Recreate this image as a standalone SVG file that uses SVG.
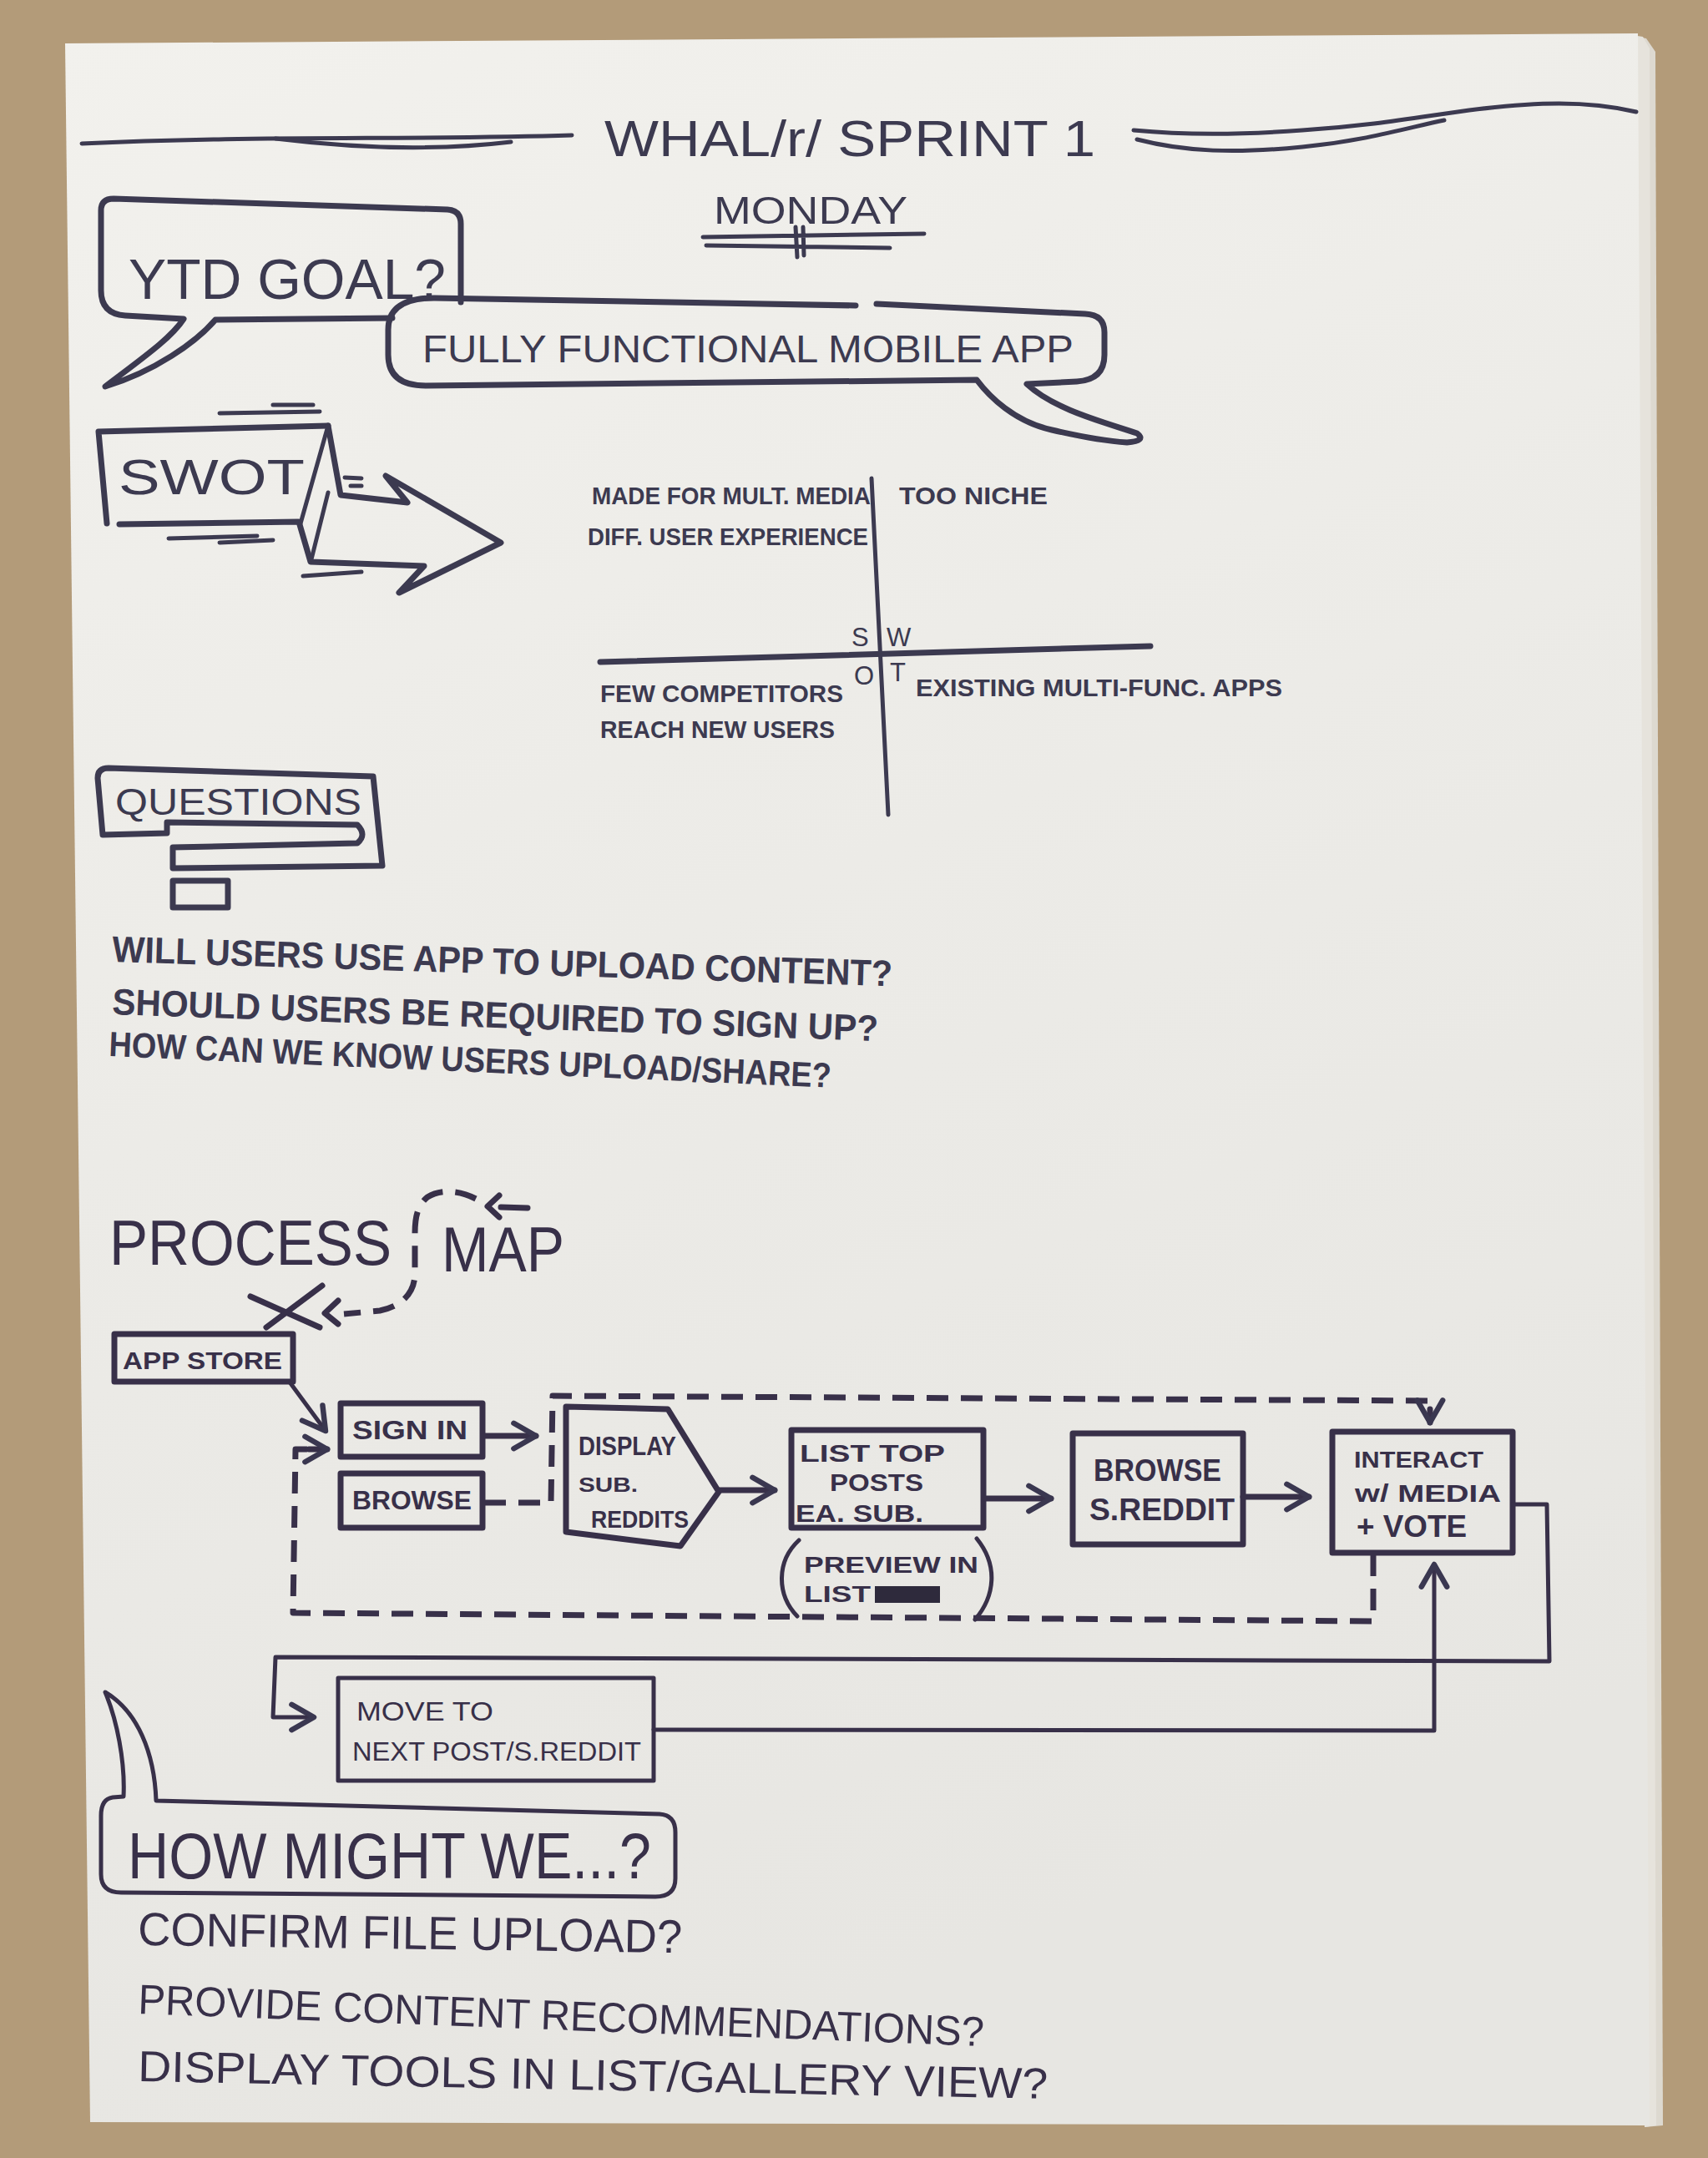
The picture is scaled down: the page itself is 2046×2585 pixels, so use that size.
<svg xmlns="http://www.w3.org/2000/svg" width="2046" height="2585" viewBox="0 0 2046 2585">
  <defs>
    <linearGradient id="paper" x1="0" y1="0" x2="0.3" y2="1">
      <stop offset="0" stop-color="#f2f1ed"/>
      <stop offset="0.5" stop-color="#ecebe7"/>
      <stop offset="1" stop-color="#e7e6e2"/>
    </linearGradient>
    <marker id="ah" viewBox="0 0 20 20" refX="17" refY="10" markerWidth="38" markerHeight="38" markerUnits="userSpaceOnUse" orient="auto">
      <path d="M3,2 L17,10 L3,18" fill="none" stroke="#3a3750" stroke-width="3.4" stroke-linecap="round" stroke-linejoin="round"/>
    </marker>
    <style>
      .ln{fill:none;stroke:#3c3a50;stroke-width:7;stroke-linecap:round;stroke-linejoin:round}
      .pm{stroke:#383049}
      .th{stroke-width:9}
      .thin{stroke-width:5}
      .dash{stroke-dasharray:26 15;stroke-linecap:butt}
      .t{font-family:"Liberation Sans","DejaVu Sans",sans-serif;fill:#3c3a50}
      .tp{fill:#383049}
      .b{font-weight:700}
    </style>
  </defs>

  <!-- cork board and flip-chart sheets -->
  <rect x="0" y="0" width="2046" height="2585" fill="#b39b79"/>
  <polygon points="1950,42 1972,46 1983,62 1992,2546 1970,2548" fill="#ddd9d0"/>
  <polygon points="1955,42 1968,44 1976,58 1984,2546 1970,2548" fill="#e6e3dc"/>
  <polygon points="78,52 1962,40 1976,2546 108,2542" fill="url(#paper)"/>

  <!-- header -->
  <g id="title">
    <path class="ln thin" d="M98,172 C300,162 500,168 685,162"/>
    <path class="ln thin" d="M330,166 C420,177 520,181 612,170"/>
    <path class="ln thin" d="M1358,156 C1420,162 1480,162 1560,156 C1650,150 1700,140 1760,132 C1840,122 1900,120 1960,134"/>
    <path class="ln thin" d="M1362,167 C1420,182 1480,184 1560,176 C1640,168 1690,152 1730,144"/>
    <text class="t" x="724" y="187" font-size="62" textLength="588" lengthAdjust="spacingAndGlyphs">WHAL/r/ SPRINT 1</text>
  </g>
  <g id="monday">
    <text class="t" x="855" y="268" font-size="46" textLength="232" lengthAdjust="spacingAndGlyphs">MONDAY</text>
    <path class="ln thin" d="M842,284 L1107,280 M846,294 L1066,297 M953,272 L955,308 M962,272 L963,306"/>
  </g>

  <!-- goal bubbles -->
  <g id="ytd-goal">
    <path class="ln" d="M470,381 L258,383 C235,410 185,445 126,463 C172,428 205,405 220,382 L150,378 Q121,376 121,348 L121,252 Q121,238 136,238 L536,251 Q552,252 552,268 L552,362"/>
    <text class="t" x="154" y="358" font-size="68" textLength="380" lengthAdjust="spacingAndGlyphs">YTD GOAL?</text>
  </g>
  <g id="fully-functional">
    <path class="ln" d="M1025,366 L520,357 Q465,357 465,395 L465,425 Q465,462 510,462 L1170,455 C1185,475 1215,505 1260,515 C1290,522 1320,528 1350,530 Q1374,528 1362,519 C1320,505 1262,490 1230,460 L1290,457 Q1323,455 1323,425 L1323,398 Q1323,377 1300,376 L1050,364"/>
    <text class="t" x="506" y="434" font-size="46" textLength="780" lengthAdjust="spacingAndGlyphs">FULLY FUNCTIONAL MOBILE APP</text>
  </g>

  <!-- SWOT banner arrow -->
  <g id="swot">
    <path class="ln" d="M128,627 L118,517 L393,510"/>
    <path class="ln" d="M143,628 L358,625 L372,673 L508,678 L478,710 L600,650 L462,570 L488,602 L408,593 L393,510"/>
    <path class="ln thin" d="M393,510 L360,627 M393,590 L373,670"/>
    <path class="ln thin" d="M263,495 L383,493 M327,485 L375,485 M202,645 L308,642 M263,650 L327,647 M363,690 L433,685 M413,572 L433,573 M420,582 L433,582"/>
    <text class="t" x="142" y="592" font-size="60" textLength="223" lengthAdjust="spacingAndGlyphs">SWOT</text>
  </g>

  <!-- SWOT matrix -->
  <g id="swot-matrix">
    <path class="ln thin" d="M1044,573 L1064,976"/>
    <path class="ln" d="M719,793 L1378,774"/>
    <text class="t" x="1020" y="774" font-size="31">S</text>
    <text class="t" x="1062" y="774" font-size="31">W</text>
    <text class="t" x="1023" y="820" font-size="31">O</text>
    <text class="t" x="1066" y="816" font-size="31">T</text>
    <text class="t b" x="709" y="604" font-size="30" textLength="334" lengthAdjust="spacingAndGlyphs">MADE FOR MULT. MEDIA</text>
    <text class="t b" x="1077" y="604" font-size="30" textLength="178" lengthAdjust="spacingAndGlyphs">TOO NICHE</text>
    <text class="t b" x="704" y="653" font-size="30" textLength="336" lengthAdjust="spacingAndGlyphs">DIFF. USER EXPERIENCE</text>
    <text class="t b" x="719" y="841" font-size="30" textLength="291" lengthAdjust="spacingAndGlyphs">FEW COMPETITORS</text>
    <text class="t b" x="719" y="884" font-size="30" textLength="281" lengthAdjust="spacingAndGlyphs">REACH NEW USERS</text>
    <text class="t b" x="1097" y="834" font-size="30" textLength="439" lengthAdjust="spacingAndGlyphs">EXISTING MULTI-FUNC. APPS</text>
  </g>

  <!-- questions -->
  <g id="questions">
    <path class="ln" d="M207,1015 L428,1010 Q440,1000 428,988 L200,985 L200,998 L123,1000 L117,932 Q117,920 130,920 L447,930 L458,1037 L207,1040 Z"/>
    <rect class="ln" x="207" y="1055" width="66" height="32"/>
    <text class="t" x="138" y="976" font-size="44" textLength="295" lengthAdjust="spacingAndGlyphs">QUESTIONS</text>
  </g>
  <g id="question-list">
    <text class="t b" x="134" y="1152" font-size="44" textLength="935" lengthAdjust="spacingAndGlyphs" transform="rotate(1.8 134 1152)">WILL USERS USE APP TO UPLOAD CONTENT?</text>
    <text class="t b" x="134" y="1215" font-size="44" textLength="918" lengthAdjust="spacingAndGlyphs" transform="rotate(2.0 134 1215)">SHOULD USERS BE REQUIRED TO SIGN UP?</text>
    <text class="t b" x="130" y="1265" font-size="42" textLength="866" lengthAdjust="spacingAndGlyphs" transform="rotate(2.5 130 1265)">HOW CAN WE KNOW USERS UPLOAD/SHARE?</text>
  </g>

  <!-- process map heading -->
  <g id="process-map-title">
    <text class="t tp" x="131" y="1515" font-size="76" textLength="338" lengthAdjust="spacingAndGlyphs">PROCESS</text>
    <text class="t tp" x="529" y="1523" font-size="76" textLength="147" lengthAdjust="spacingAndGlyphs">MAP</text>
    <path class="ln pm" d="M632,1447 L600,1446" stroke-width="13"/>
    <path class="ln pm" d="M598,1432 L584,1445 L598,1458"/>
    <path class="ln pm dash" stroke-width="11" d="M570,1436 C550,1426 528,1424 512,1434 C500,1444 497,1458 497,1478 L497,1525 C497,1550 480,1565 455,1570 L412,1574"/>
    <path class="ln pm" d="M405,1558 L389,1573 L405,1586"/>
    <path class="ln pm" stroke-width="13" d="M300,1553 L383,1590 M319,1590 L386,1540"/>
  </g>

  <!-- process nodes -->
  <g id="app-store">
    <rect class="ln pm" x="137" y="1598" width="214" height="57"/>
    <text class="t tp b" x="147" y="1640" font-size="30" textLength="191" lengthAdjust="spacingAndGlyphs">APP STORE</text>
  </g>
  <g id="sign-in">
    <rect class="ln pm" x="408" y="1681" width="170" height="64"/>
    <text class="t tp b" x="422" y="1724" font-size="32" textLength="138" lengthAdjust="spacingAndGlyphs">SIGN IN</text>
  </g>
  <g id="browse">
    <rect class="ln pm" x="408" y="1765" width="170" height="65"/>
    <text class="t tp b" x="422" y="1808" font-size="32" textLength="143" lengthAdjust="spacingAndGlyphs">BROWSE</text>
  </g>
  <g id="display-subreddits">
    <path class="ln pm" d="M678,1685 L800,1688 L861,1787 L815,1852 L678,1835 Z"/>
    <text class="t tp b" x="693" y="1743" font-size="32" textLength="117" lengthAdjust="spacingAndGlyphs">DISPLAY</text>
    <text class="t tp b" x="693" y="1787" font-size="24" textLength="71" lengthAdjust="spacingAndGlyphs">SUB.</text>
    <text class="t tp b" x="708" y="1830" font-size="30" textLength="117" lengthAdjust="spacingAndGlyphs">REDDITS</text>
  </g>
  <g id="list-top-posts">
    <rect class="ln pm" x="948" y="1713" width="230" height="117"/>
    <text class="t tp b" x="958" y="1751" font-size="30" textLength="174" lengthAdjust="spacingAndGlyphs">LIST TOP</text>
    <text class="t tp b" x="994" y="1786" font-size="30" textLength="112" lengthAdjust="spacingAndGlyphs">POSTS</text>
    <text class="t tp b" x="953" y="1823" font-size="30" textLength="153" lengthAdjust="spacingAndGlyphs">EA. SUB.</text>
  </g>
  <g id="preview-note">
    <path class="ln pm thin" d="M957,1845 C930,1870 930,1910 955,1936 M1170,1843 C1196,1875 1192,1912 1168,1940"/>
    <text class="t tp b" x="963" y="1884" font-size="28" textLength="209" lengthAdjust="spacingAndGlyphs">PREVIEW IN</text>
    <text class="t tp b" x="963" y="1919" font-size="28" textLength="80" lengthAdjust="spacingAndGlyphs">LIST</text>
    <rect x="1048" y="1900" width="78" height="20" fill="#2e2a3c"/>
  </g>
  <g id="browse-subreddit">
    <rect class="ln pm" x="1285" y="1717" width="204" height="133"/>
    <text class="t tp b" x="1310" y="1774" font-size="36" textLength="153" lengthAdjust="spacingAndGlyphs">BROWSE</text>
    <text class="t tp b" x="1305" y="1821" font-size="36" textLength="174" lengthAdjust="spacingAndGlyphs">S.REDDIT</text>
  </g>
  <g id="interact">
    <rect class="ln pm" x="1596" y="1715" width="216" height="145"/>
    <text class="t tp b" x="1622" y="1758" font-size="28" textLength="155" lengthAdjust="spacingAndGlyphs">INTERACT</text>
    <text class="t tp b" x="1623" y="1799" font-size="30" textLength="175" lengthAdjust="spacingAndGlyphs">w/ MEDIA</text>
    <text class="t tp b" x="1625" y="1841" font-size="36" textLength="132" lengthAdjust="spacingAndGlyphs">+ VOTE</text>
  </g>
  <g id="move-next">
    <rect class="ln pm thin" x="405" y="2010" width="378" height="123"/>
    <text class="t tp" x="427" y="2061" font-size="32" textLength="164" lengthAdjust="spacingAndGlyphs">MOVE TO</text>
    <text class="t tp" x="422" y="2109" font-size="32" textLength="346" lengthAdjust="spacingAndGlyphs">NEXT POST/S.REDDIT</text>
  </g>

  <!-- connectors -->
  <g id="connectors">
    <path class="ln pm thin" marker-end="url(#ah)" d="M348,1657 L390,1714"/>
    <path class="ln pm" marker-end="url(#ah)" d="M580,1720 L642,1720"/>
    <path class="ln pm dash" d="M580,1800 L660,1800 L662,1672 L1713,1678 L1713,1690"/>
    <path class="ln pm" marker-end="url(#ah)" d="M1713,1688 L1713,1704"/>
    <path class="ln pm" marker-end="url(#ah)" d="M861,1785 L928,1785"/>
    <path class="ln pm" marker-end="url(#ah)" d="M1180,1795 L1259,1795"/>
    <path class="ln pm" marker-end="url(#ah)" d="M1489,1793 L1568,1793"/>
    <path class="ln pm dash" d="M1645,1862 L1645,1942 L351,1932 L354,1736 L372,1736"/>
    <path class="ln pm" marker-end="url(#ah)" d="M370,1736 L392,1736"/>
    <path class="ln pm thin" marker-end="url(#ah)" d="M1812,1802 L1853,1802 L1856,1990 L330,1985 L327,2057 L376,2057"/>
    <path class="ln pm thin" marker-end="url(#ah)" d="M783,2072 L1718,2073 L1718,1874"/>
  </g>

  <!-- how might we -->
  <g id="how-might-we">
    <path class="ln pm thin" d="M187,2157 C185,2100 165,2050 126,2027 C140,2060 150,2110 148,2152 L135,2153 Q121,2155 121,2175 L121,2245 Q121,2267 145,2267 L785,2272 Q809,2272 809,2250 L809,2195 Q809,2174 790,2173 Z"/>
    <text class="t tp" x="153" y="2250" font-size="78" textLength="627" lengthAdjust="spacingAndGlyphs">HOW MIGHT WE...?</text>
  </g>
  <g id="hmw-list">
    <text class="t tp" x="165" y="2330" font-size="56" textLength="652" lengthAdjust="spacingAndGlyphs" transform="rotate(0.8 165 2330)">CONFIRM FILE UPLOAD?</text>
    <text class="t tp" x="165" y="2412" font-size="50" textLength="1014" lengthAdjust="spacingAndGlyphs" transform="rotate(2.2 165 2412)">PROVIDE CONTENT RECOMMENDATIONS?</text>
    <text class="t tp" x="165" y="2493" font-size="52" textLength="1090" lengthAdjust="spacingAndGlyphs" transform="rotate(1.1 165 2493)">DISPLAY TOOLS IN LIST/GALLERY VIEW?</text>
  </g>
</svg>
